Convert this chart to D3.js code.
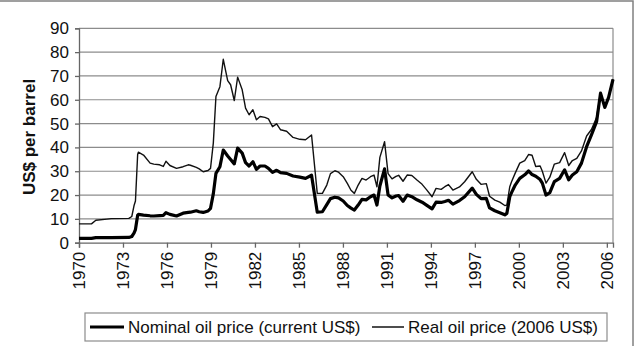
<!DOCTYPE html>
<html>
<head>
<meta charset="utf-8">
<script src="https://cdnjs.cloudflare.com/ajax/libs/d3/7.8.5/d3.min.js"></script>
<style>
  body { margin: 0; background: #fff; }
  svg { font-family: "Liberation Sans", Arial, sans-serif; }
</style>
</head>
<body>
<svg></svg>
<script>

// decimal years
var years = [1970, 1970.85, 1971.15, 1971.9, 1972.2, 1973.4, 1973.6, 1973.75, 1973.85, 1974,
   1974.05, 1974.4, 1974.85, 1975.1, 1975.5, 1975.75, 1975.93, 1976.2, 1976.65, 1977.1,
   1977.45, 1977.6, 1978, 1978.2, 1978.47, 1978.8, 1978.97, 1979.16, 1979.34, 1979.61,
   1979.84, 1980.14, 1980.34, 1980.59, 1980.82, 1981.13, 1981.36, 1981.6, 1981.86, 1982.1,
   1982.35, 1982.68, 1982.92, 1983.2, 1983.48, 1983.75, 1984.16, 1984.6, 1985.06, 1985.45,
   1985.86, 1986.25, 1986.6, 1986.9, 1987.15, 1987.45, 1987.7, 1988.02, 1988.3, 1988.55,
   1988.78, 1989.04, 1989.3, 1989.58, 1989.88, 1990.12, 1990.32, 1990.52, 1990.84, 1991.08,
   1991.35, 1991.62, 1991.8, 1992.1, 1992.38, 1992.7, 1993.05, 1993.4, 1993.7, 1994.08,
   1994.35, 1994.7, 1994.95, 1995.2, 1995.5, 1995.95, 1996.3, 1996.82, 1997.1, 1997.42,
   1997.78, 1998, 1998.36, 1998.7, 1999.04, 1999.18, 1999.38, 1999.5, 1999.75, 2000.06,
   2000.4, 2000.66, 2000.9, 2001.15, 2001.45, 2001.6, 2001.85, 2002.11, 2002.42, 2002.78,
   2003.12, 2003.4, 2003.65, 2003.95, 2004.27, 2004.62, 2004.95, 2005.3, 2005.57, 2005.86,
   2006.12, 2006.42];

var nominal = [1.8, 1.8, 2.1, 2.1, 2.1, 2.2, 2.6, 4.0, 5.5, 11.5,
   11.9, 11.6, 11.3, 11.2, 11.4, 11.5, 12.6, 11.9, 11.2, 12.4,
   12.7, 12.8, 13.4, 13.0, 12.7, 13.3, 14.4, 20.5, 29.1, 31.9,
   38.9, 36.4, 34.9, 33.1, 39.7, 37.6, 33.6, 32.2, 34.0, 30.8,
   32.2, 32.2, 31.2, 29.5, 30.4, 29.4, 29.1, 28.0, 27.5, 27.0,
   28.3, 12.8, 13.0, 16.0, 18.5, 19.1, 18.8, 17.5, 15.6, 14.5,
   13.7, 15.8, 18.2, 18.0, 19.3, 20.0, 15.8, 23.8, 31.0, 20.0,
   18.8, 19.6, 19.8, 17.4, 20.0, 19.3, 18.0, 17.0, 15.8, 14.2,
   17.0, 16.9, 17.3, 17.8, 16.2, 17.7, 19.3, 22.9, 20.3, 18.5,
   18.6, 14.6, 13.4, 12.6, 11.7, 12.3, 19.3, 21.0, 24.2, 27.0,
   28.5, 30.1, 28.6, 27.9, 26.5, 25.0, 20.0, 21.0, 25.6, 27.0,
   30.6, 26.4, 28.4, 29.8, 33.4, 40.3, 45.3, 50.8, 62.8, 56.8,
   61.0, 68.6];

var real = [7.9, 7.9, 9.4, 9.9, 10.1, 10.2, 11.0, 15.5, 17.5, 37.0,
   38.0, 36.8, 33.4, 33.0, 32.7, 32.0, 34.2, 32.4, 31.2, 31.9,
   32.7, 32.5, 31.6, 31.0, 29.8, 30.3, 31.2, 41.8, 61.4, 65.5,
   77.0, 68.0, 66.3, 59.7, 69.5, 64.2, 56.5, 53.7, 55.8, 51.6,
   53.0, 52.6, 52.0, 48.7, 49.9, 47.4, 46.8, 44.2, 43.4, 43.2,
   45.2, 20.7, 20.7, 24.2, 29.0, 30.2, 29.6, 27.7, 24.9, 22.0,
   20.7, 24.2, 27.0, 26.3, 27.7, 28.4, 23.5, 35.8, 42.4, 29.0,
   26.8, 27.8, 28.3, 25.8, 28.4, 28.2, 26.3, 24.5, 22.3, 19.3,
   22.8, 22.4, 23.5, 24.4, 22.1, 23.4, 25.6, 29.8, 26.6, 24.5,
   24.8, 19.5, 17.9, 17.0, 15.6, 15.8, 23.5, 25.6, 29.2, 33.4,
   34.5, 37.0, 36.7, 32.0, 32.2, 30.0, 25.0, 27.5, 33.0, 33.6,
   37.8, 32.4, 34.5, 35.4, 38.5, 44.8, 47.5, 52.5, 62.8, 56.9,
   61.2, 68.7];

var yTicks = d3.range(0, 91, 10);
var xTicks = d3.range(1970, 2007, 3);
var seriesNames = ['Nominal oil price (current US$)', 'Real oil price (2006 US$)'];
var yTitle = 'US$ per barrel';

var svg = d3.select('svg')
   .attr('width', 640)
   .attr('height', 346);

var x = d3.scaleLinear()
   .domain([1970, 2006.42])
   .range([79, 613]);

var y = d3.scaleLinear()
   .domain([0, 90])
   .range([242.7, 28.3]);

// outer frame (only top and right edges show)
svg.append('rect')
   .attr('x', -2).attr('y', 1)
   .attr('width', 635).attr('height', 360)
   .attr('fill', 'none')
   .attr('stroke', '#808080')
   .attr('stroke-width', 1.5);

// gridlines
svg.append('g')
   .selectAll('line')
   .data(yTicks.slice(1))
   .enter()
   .append('line')
   .attr('x1', x.range()[0]).attr('x2', x.range()[1])
   .attr('y1', (d) => y(d)).attr('y2', (d) => y(d))
   .attr('stroke', '#8c8c8c')
   .attr('stroke-width', 1.2);

// right border of plot
svg.append('line')
   .attr('x1', x.range()[1]).attr('x2', x.range()[1])
   .attr('y1', y(90)).attr('y2', y(0))
   .attr('stroke', '#8c8c8c')
   .attr('stroke-width', 1.2);

var yAxis = svg.append('g')
   .attr('transform', 'translate(' + x.range()[0] + ',0)')
   .call(d3.axisLeft(y).tickValues(yTicks).tickSize(4).tickPadding(6));

yAxis.selectAll('text')
   .attr('font-size', 17)
   .attr('font-family', '"Liberation Sans", Arial, sans-serif')
   .attr('fill', '#111');

var xAxis = svg.append('g')
   .attr('transform', 'translate(0,' + y(0) + ')')
   .call(d3.axisBottom(x).tickValues(xTicks).tickFormat(d3.format('d')).tickSize(5).tickPadding(4));

xAxis.selectAll('text')
   .attr('font-size', 17)
   .attr('font-family', '"Liberation Sans", Arial, sans-serif')
   .attr('fill', '#111')
   .attr('text-anchor', 'end')
   .attr('dy', '0.35em')
   .attr('transform', 'rotate(-90)')
   .attr('x', -9)
   .attr('y', 0);

svg.selectAll('.domain, .tick line')
   .attr('stroke', '#666')
   .attr('stroke-width', 1.3);

// y title
svg.append('text')
   .attr('transform', 'translate(35,137) rotate(-90)')
   .attr('text-anchor', 'middle')
   .attr('font-size', 17)
   .attr('font-weight', 'bold')
   .attr('fill', '#111')
   .text(yTitle);

var line = d3.line()
   .x((d) => x(d[0]))
   .y((d) => y(d[1]));

svg.append('path')
   .datum(d3.zip(years, real))
   .attr('d', line)
   .attr('fill', 'none')
   .attr('stroke', '#111')
   .attr('stroke-width', 1.4)
   .attr('stroke-linejoin', 'round');

svg.append('path')
   .datum(d3.zip(years, nominal))
   .attr('d', line)
   .attr('fill', 'none')
   .attr('stroke', '#000')
   .attr('stroke-width', 3.2)
   .attr('stroke-linejoin', 'round');

// legend
var legend = svg.append('g');

legend.append('rect')
   .attr('x', 85).attr('y', 313)
   .attr('width', 522).attr('height', 28)
   .attr('fill', '#fff')
   .attr('stroke', '#8c8c8c')
   .attr('stroke-width', 1.2);

var items = [
   { name: seriesNames[0], x0: 90, x1: 124, w: 3.2 },
   { name: seriesNames[1], x0: 372, x1: 404, w: 1.4 }
];

items.forEach((it) => {
   legend.append('line')
      .attr('x1', it.x0).attr('x2', it.x1)
      .attr('y1', 327).attr('y2', 327)
      .attr('stroke', '#000')
      .attr('stroke-width', it.w);
   legend.append('text')
      .attr('x', it.x1 + 4)
      .attr('y', 327)
      .attr('dy', '0.35em')
      .attr('font-size', 17)
      .attr('fill', '#111')
      .text(it.name);
});
</script>
</body>
</html>
